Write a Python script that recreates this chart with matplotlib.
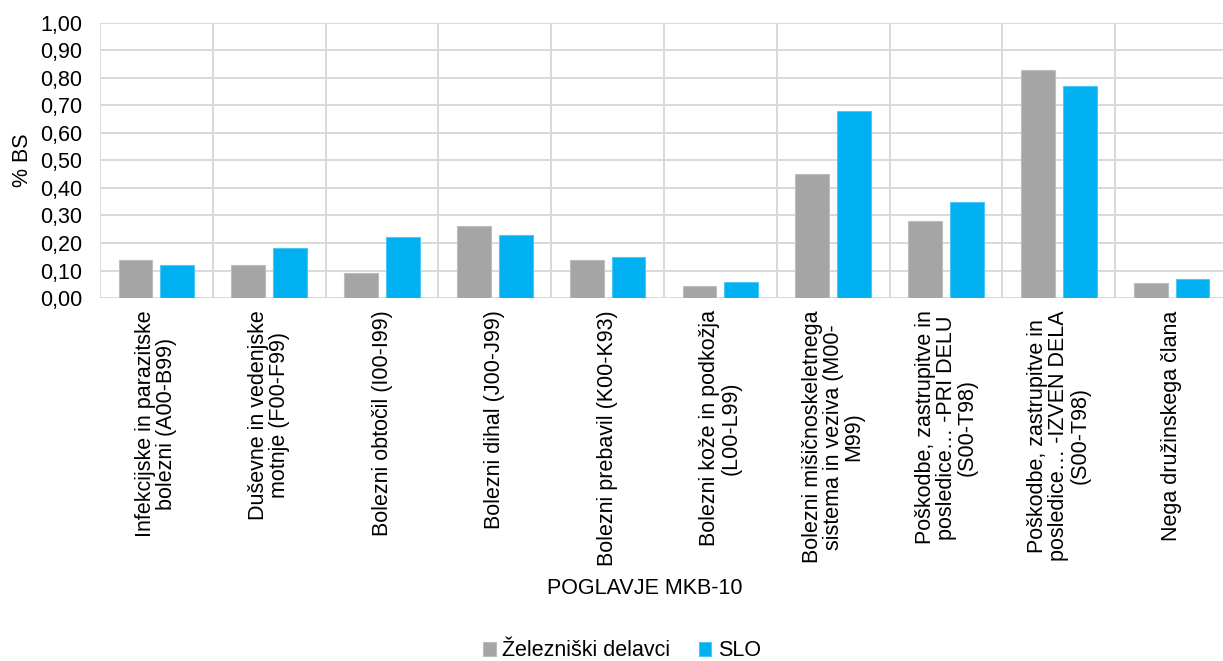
import matplotlib.pyplot as plt
import numpy as np
from matplotlib.ticker import FuncFormatter, MultipleLocator

plt.rcParams['font.family'] = ['Liberation Sans', 'DejaVu Sans']

categories = [
    "Infekcijske in parazitske\nbolezni (A00-B99)",
    "Duševne in vedenjske\nmotnje (F00-F99)",
    "Bolezni obtočil (I00-I99)",
    "Bolezni dihal (J00-J99)",
    "Bolezni prebavil (K00-K93)",
    "Bolezni kože in podkožja\n(L00-L99)",
    "Bolezni mišičnoskeletnega\nsistema in veziva (M00-\nM99)",
    "Poškodbe, zastrupitve in\nposledice… -PRI DELU\n(S00-T98)",
    "Poškodbe, zastrupitve in\nposledice… -IZVEN DELA\n(S00-T98)",
    "Nega družinskega člana",
]
zelezniski = [0.14, 0.12, 0.09, 0.26, 0.14, 0.045, 0.45, 0.28, 0.83, 0.055]
slo = [0.12, 0.18, 0.22, 0.23, 0.15, 0.06, 0.68, 0.35, 0.77, 0.07]
series_names = ["Železniški delavci", "SLO"]

FS = 15.5
W, H = 1223, 661
fig = plt.figure(figsize=(W / 100, H / 100), dpi=100)
ax = fig.add_axes([100 / W, (H - 298) / H, 1128 / W, 275 / H])

x = np.arange(len(categories))
bw = 0.30
b1 = ax.bar(x - 0.185, zelezniski, bw, color='#a5a5a5', edgecolor='#bdbdbd',
            linewidth=0.8, label=series_names[0], zorder=3)
b2 = ax.bar(x + 0.185, slo, bw, color='#00b0f0', edgecolor='#4cc8f4',
            linewidth=0.8, label=series_names[1], zorder=3)

ax.set_xlim(-0.5, len(categories) - 0.5)
ax.set_ylim(0, 1.0)
ax.yaxis.set_major_locator(MultipleLocator(0.1))
ax.yaxis.set_major_formatter(FuncFormatter(lambda v, p: f"{v:.2f}".replace('.', ',')))

# horizontal grid plus separators between categories
ax.grid(axis='y', color='#d9d9d9', linewidth=1.4, zorder=0)
for b in np.arange(-0.5, len(categories), 1.0):
    ax.axvline(b, color='#d9d9d9', linewidth=1.4, zorder=0)

for s in ax.spines.values():
    s.set_visible(False)
ax.axhline(0, color='#d9d9d9', linewidth=1.4, zorder=2)

ax.set_xticks(x)
ax.set_xticklabels(categories, rotation=90, ha='center', va='top',
                   multialignment='center', linespacing=1.0)
ax.tick_params(axis='x', length=0, pad=9, labelsize=FS, colors='#000000')
ax.tick_params(axis='y', length=0, pad=13, labelsize=FS)

fig.text(22 / W, 1 - 160 / H, "% BS", rotation=90, ha='center', va='center', fontsize=FS)
fig.text(645 / W, 1 - 588 / H, "POGLAVJE MKB-10", ha='center', va='center', fontsize=FS)

fig.legend(handles=[b1, b2], labels=series_names, loc='center',
           bbox_to_anchor=(622 / W, 1 - 651 / H), ncol=2, frameon=False,
           fontsize=FS, handlelength=0.6, handleheight=0.6, handletextpad=0.3,
           columnspacing=1.3)

fig.savefig('out.png', dpi=100)
